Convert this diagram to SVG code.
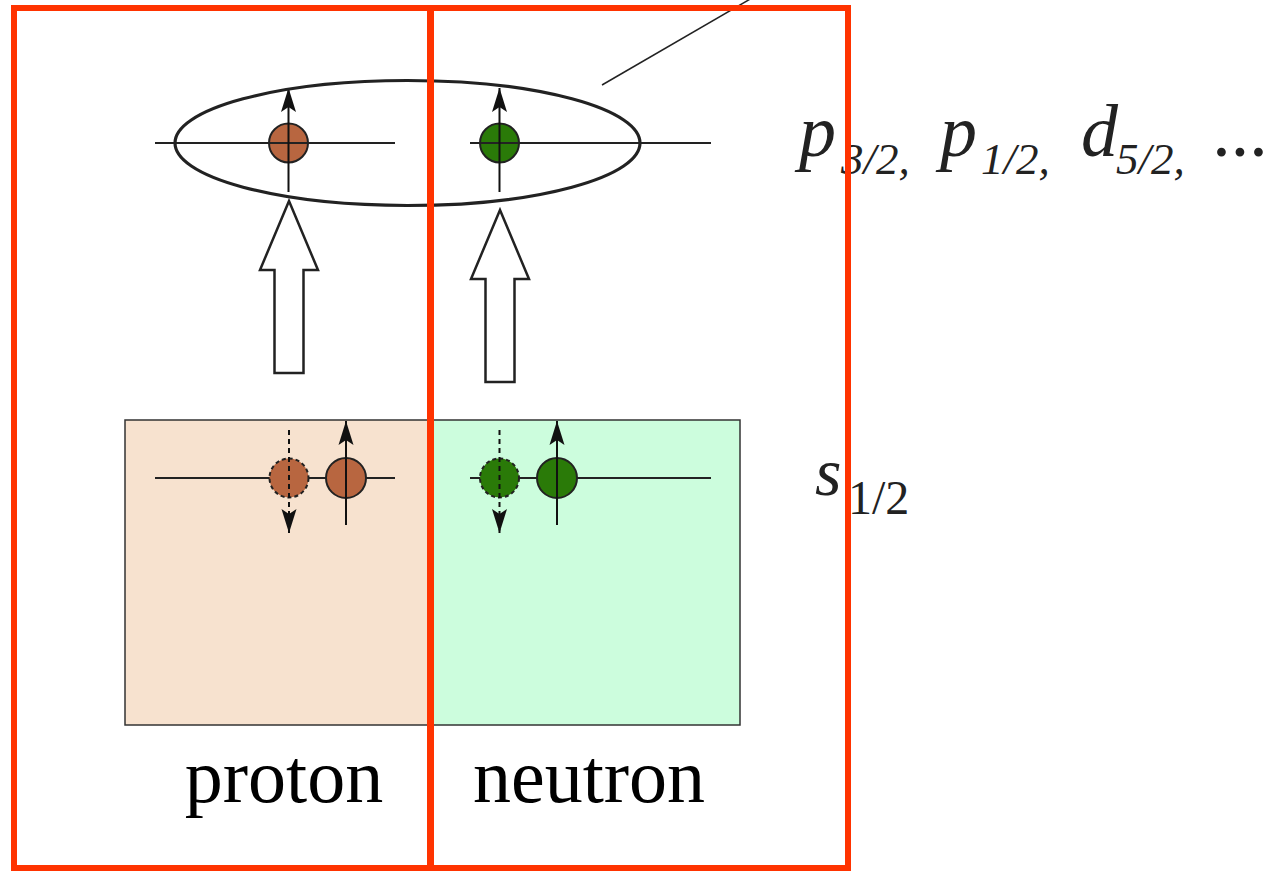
<svg xmlns="http://www.w3.org/2000/svg" width="1272" height="871" viewBox="0 0 1272 871">
<style>
.lvl{stroke:#222;stroke-width:2;fill:none}
.spin{stroke:#111;stroke-width:2;fill:none}
.dash{stroke:#111;stroke-width:2;fill:none;stroke-dasharray:5,4}
.p{fill:#b86640;stroke:#222;stroke-width:2}
.n{fill:#2a7a08;stroke:#222;stroke-width:2}
.pd{fill:#b86640;stroke:#222;stroke-width:2;stroke-dasharray:4,3}
.nd{fill:#2a7a08;stroke:#222;stroke-width:2;stroke-dasharray:4,3}
.big{fill:#fff;stroke:#222;stroke-width:2.5;stroke-linejoin:miter}
.red{fill:none;stroke:#ff3300;stroke-width:6}
.lab{font-family:"Liberation Serif","Times New Roman",serif;fill:#000}
.math{font-family:"Liberation Serif","Times New Roman",serif;fill:#222;font-style:italic}
</style>
<defs>
<marker id="ah" markerUnits="userSpaceOnUse" markerWidth="26" markerHeight="18" viewBox="0 -9 26 18" refX="24" refY="0" orient="auto">
<path d="M24,0 L0,-7.5 L5,0 L0,7.5 Z" fill="#111"/>
</marker>
</defs>
<g id="proton-box"><rect x="125" y="420" width="305" height="305" fill="#f7e2cf" stroke="#333" stroke-width="1.5"/></g>
<g id="neutron-box"><rect x="430" y="420" width="310" height="305" fill="#ccfddd" stroke="#333" stroke-width="1.5"/></g>
<g id="proton-top">
<circle class="p" cx="288.5" cy="143" r="19.5"/>
<line class="lvl" x1="155" y1="143" x2="395" y2="143"/>
<line class="spin" x1="288.5" y1="192" x2="288.5" y2="88" marker-end="url(#ah)"/>
</g>
<g id="neutron-top">
<circle class="n" cx="499.5" cy="143" r="19.5"/>
<line class="lvl" x1="470" y1="143" x2="711" y2="143"/>
<line class="spin" x1="499.5" y1="192" x2="499.5" y2="88" marker-end="url(#ah)"/>
</g>
<g id="proton-bottom">
<line class="lvl" x1="155" y1="478" x2="395" y2="478"/>
<circle class="pd" cx="289" cy="478" r="19.5"/>
<circle class="p" cx="346" cy="478" r="20"/>
<line class="dash" x1="289" y1="430" x2="289" y2="533" marker-end="url(#ah)"/>
<line class="spin" x1="346" y1="525" x2="346" y2="421" marker-end="url(#ah)"/>
</g>
<g id="neutron-bottom">
<line class="lvl" x1="470" y1="478" x2="711" y2="478"/>
<circle class="nd" cx="499.5" cy="478" r="19.5"/>
<circle class="n" cx="557" cy="478" r="20"/>
<line class="dash" x1="499.5" y1="430" x2="499.5" y2="533" marker-end="url(#ah)"/>
<line class="spin" x1="557" y1="525" x2="557" y2="421" marker-end="url(#ah)"/>
</g>
<g id="connectors">
<path class="big" d="M289,201 L318,270 L303.5,270 L303.5,373 L274.5,373 L274.5,270 L260,270 Z"/>
<path class="big" d="M500,210 L529,279 L514.5,279 L514.5,382 L485.5,382 L485.5,279 L471,279 Z"/>
<line x1="602" y1="85" x2="752" y2="-2" stroke="#222" stroke-width="1.5"/>
</g>
<g id="valence-ellipse"><ellipse cx="407.5" cy="143" rx="232.5" ry="62.5" fill="none" stroke="#222" stroke-width="3.2"/></g>
<g id="labels">
<text class="lab" x="284" y="802" font-size="76" text-anchor="middle">proton</text>
<text class="lab" x="589" y="802" font-size="76" text-anchor="middle">neutron</text>
<text class="math" font-size="74"><tspan x="799" y="156">p</tspan><tspan x="841" y="174" font-size="45">3/2,</tspan><tspan x="940" y="156">p</tspan><tspan x="981" y="174" font-size="45">1/2,</tspan><tspan x="1081" y="156">d</tspan><tspan x="1116" y="174" font-size="45">5/2,</tspan><tspan x="1214" y="156">...</tspan></text>
<text class="math" font-size="68"><tspan x="815" y="495">s</tspan><tspan x="848" y="514" font-size="48" font-style="normal">1/2</tspan></text>
</g>
<g id="frames">
<rect class="red" x="14" y="8" width="416" height="860"/>
<rect class="red" x="431" y="8" width="417" height="860"/>
</g>
</svg>
